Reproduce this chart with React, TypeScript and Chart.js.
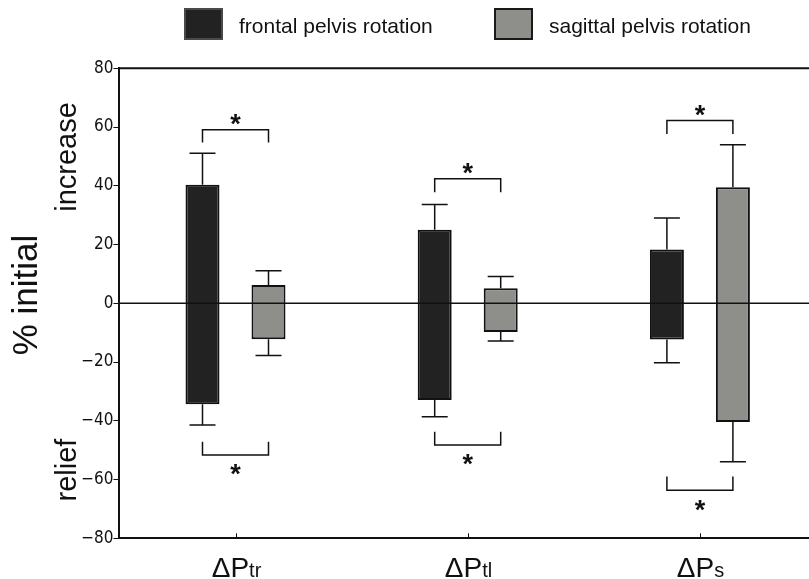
import React, { useEffect, useRef } from "react";
import { Chart, registerables } from "chart.js";

Chart.register(...registerables);

// ---- data ----
const categories = ["ΔPtr", "ΔPtl", "ΔPs"];
const catMain = ["ΔP", "ΔP", "ΔP"];
const catSub = ["tr", "tl", "s"];
const seriesNames = ["frontal pelvis rotation", "sagittal pelvis rotation"];

const frontalLo = [-34.4, -32.9, -12.3];
const frontalHi = [40.4, 25.0, 18.3];
const frontalWhiskerLo = [-41.4, -38.6, -20.2];
const frontalWhiskerHi = [51.1, 33.6, 29.0];

const sagittalLo = [-12.2, -9.8, -40.4];
const sagittalHi = [6.2, 5.1, 39.5];
const sagittalWhiskerLo = [-17.8, -12.8, -53.9];
const sagittalWhiskerHi = [11.1, 9.1, 54.0];

// significance brackets (y values): bar level and end tips
const bracketTop = [59.1, 42.4, 62.2];
const bracketTopTip = [54.7, 37.8, 57.6];
const bracketBottom = [-51.6, -48.2, -63.6];
const bracketBottomTip = [-47.1, -43.7, -59.0];

const yTicks = [-80, -60, -40, -20, 0, 20, 40, 60, 80];

const COLORS = ["#222222", "#8e8f8a"];

export default function App() {
  const ref = useRef<HTMLCanvasElement | null>(null);

  useEffect(() => {
    const canvas = ref.current!;
    const whiskers = [
      { lo: frontalWhiskerLo, hi: frontalWhiskerHi, boxLo: frontalLo, boxHi: frontalHi },
      { lo: sagittalWhiskerLo, hi: sagittalWhiskerHi, boxLo: sagittalLo, boxHi: sagittalHi },
    ];

    const overlay = {
      id: "overlay",
      afterDatasetsDraw(chart: any) {
        const ctx = chart.ctx;
        const y = chart.scales.y;
        const area = chart.chartArea;
        ctx.save();
        // zero line
        ctx.strokeStyle = "#111";
        ctx.lineWidth = 1.5;
        ctx.beginPath();
        ctx.moveTo(area.left, y.getPixelForValue(0));
        ctx.lineTo(area.right, y.getPixelForValue(0));
        ctx.stroke();
        // whiskers
        whiskers.forEach((w, di) => {
          const meta = chart.getDatasetMeta(di);
          meta.data.forEach((bar: any, j: number) => {
            const cx = bar.x;
            const cap = 13;
            const yTop = y.getPixelForValue(w.boxHi[j]);
            const yHi = y.getPixelForValue(w.hi[j]);
            const yBot = y.getPixelForValue(w.boxLo[j]);
            const yLo = y.getPixelForValue(w.lo[j]);
            ctx.beginPath();
            ctx.moveTo(cx, yTop);
            ctx.lineTo(cx, yHi);
            ctx.moveTo(cx - cap, yHi);
            ctx.lineTo(cx + cap, yHi);
            ctx.moveTo(cx, yBot);
            ctx.lineTo(cx, yLo);
            ctx.moveTo(cx - cap, yLo);
            ctx.lineTo(cx + cap, yLo);
            ctx.stroke();
          });
        });
        // brackets
        const m0 = chart.getDatasetMeta(0);
        const m1 = chart.getDatasetMeta(1);
        ctx.fillStyle = "#111";
        ctx.font = "bold 27px 'Liberation Sans', Arial, sans-serif";
        ctx.textAlign = "center";
        ctx.textBaseline = "alphabetic";
        categories.forEach((_, j) => {
          const x0 = m0.data[j].x;
          const x1 = m1.data[j].x;
          const mid = (x0 + x1) / 2;
          const t = y.getPixelForValue(bracketTop[j]);
          const tt = y.getPixelForValue(bracketTopTip[j]);
          const b = y.getPixelForValue(bracketBottom[j]);
          const bt = y.getPixelForValue(bracketBottomTip[j]);
          ctx.beginPath();
          ctx.moveTo(x0, tt);
          ctx.lineTo(x0, t);
          ctx.lineTo(x1, t);
          ctx.lineTo(x1, tt);
          ctx.moveTo(x0, bt);
          ctx.lineTo(x0, b);
          ctx.lineTo(x1, b);
          ctx.lineTo(x1, bt);
          ctx.stroke();
          ctx.fillText("*", mid, t - 12.5 + 16);
          ctx.fillText("*", mid, b + 12.5 + 16);
        });
        ctx.restore();
      },
      afterDraw(chart: any) {
        const ctx = chart.ctx;
        const x = chart.scales.x;
        const area = chart.chartArea;
        ctx.save();
        // top frame line
        ctx.strokeStyle = "#111";
        ctx.lineWidth = 2;
        ctx.beginPath();
        ctx.moveTo(area.left - 1, area.top);
        ctx.lineTo(area.right, area.top);
        ctx.stroke();
        // inward x ticks and labels
        ctx.lineWidth = 1;
        categories.forEach((_, j) => {
          const px = Math.round(x.getPixelForValue(j)) + 0.5;
          ctx.beginPath();
          ctx.moveTo(px, area.bottom);
          ctx.lineTo(px, area.bottom - 5);
          ctx.stroke();
          const mainFont = "28px 'Liberation Sans', Arial, sans-serif";
          const subFont = "20px 'Liberation Sans', Arial, sans-serif";
          ctx.font = mainFont;
          const w1 = ctx.measureText(catMain[j]).width;
          ctx.font = subFont;
          const w2 = ctx.measureText(catSub[j]).width;
          const start = px - (w1 + w2) / 2;
          ctx.fillStyle = "#111";
          ctx.textAlign = "left";
          ctx.textBaseline = "alphabetic";
          ctx.font = mainFont;
          ctx.fillText(catMain[j], start, 577);
          ctx.font = subFont;
          ctx.fillText(catSub[j], start + w1, 577);
        });
        // axis titles
        const rot = (text: string, bx: number, cy: number, font: string) => {
          ctx.save();
          ctx.translate(bx, cy);
          ctx.rotate(-Math.PI / 2);
          ctx.font = font;
          ctx.textAlign = "center";
          ctx.textBaseline = "alphabetic";
          ctx.fillText(text, 0, 0);
          ctx.restore();
        };
        rot("% initial", 36.5, 295, "35px 'Liberation Sans', Arial, sans-serif");
        rot("increase", 76, 157, "29px 'Liberation Sans', Arial, sans-serif");
        rot("relief", 76, 470, "29px 'Liberation Sans', Arial, sans-serif");
        // legend
        const legendBoxes = [
          { x: 185, tx: 239, fill: COLORS[0], stroke: "#4a4a4a" },
          { x: 495, tx: 549, fill: COLORS[1], stroke: "#1a1a1a" },
        ];
        legendBoxes.forEach((lb, i) => {
          ctx.fillStyle = lb.fill;
          ctx.strokeStyle = lb.stroke;
          ctx.lineWidth = 2;
          ctx.fillRect(lb.x, 9, 37, 30);
          ctx.strokeRect(lb.x, 9, 37, 30);
          ctx.fillStyle = "#111";
          ctx.font = "21px 'Liberation Sans', Arial, sans-serif";
          ctx.textAlign = "left";
          ctx.textBaseline = "alphabetic";
          ctx.fillText(seriesNames[i], lb.tx, 33);
        });
        ctx.restore();
      },
    };

    const chart = new Chart(canvas, {
      type: "bar",
      data: {
        labels: categories,
        datasets: [
          {
            label: seriesNames[0],
            data: frontalLo.map((v, i) => [v, frontalHi[i]]) as any,
            backgroundColor: COLORS[0],
            borderColor: "#111",
            borderWidth: 2,
            borderSkipped: false,
          },
          {
            label: seriesNames[1],
            data: sagittalLo.map((v, i) => [v, sagittalHi[i]]) as any,
            backgroundColor: COLORS[1],
            borderColor: "#111",
            borderWidth: 2,
            borderSkipped: false,
          },
        ],
      },
      options: {
        responsive: false,
        animation: false,
        events: [],
        layout: { padding: { top: 68.3, left: 0, right: 0, bottom: 0 } },
        datasets: { bar: { categoryPercentage: 0.5685, barPercentage: 0.515 } },
        plugins: { legend: { display: false }, tooltip: { enabled: false } },
        scales: {
          x: {
            type: "category",
            grid: { display: false },
            border: { display: true, color: "#111", width: 2 },
            ticks: { display: false },
            afterFit: (s: any) => {
              s.height = 40.7;
            },
          },
          y: {
            min: -80,
            max: 80,
            afterBuildTicks: (s: any) => {
              s.ticks = yTicks.map((v) => ({ value: v }));
            },
            grid: {
              drawOnChartArea: false,
              drawTicks: true,
              tickLength: 6,
              color: "#111",
              lineWidth: 1,
            },
            border: { display: true, color: "#111", width: 2 },
            ticks: {
              padding: 0,
              color: "#111",
              font: { family: "'Liberation Sans Narrow', 'DejaVu Sans Condensed', sans-serif", size: 17 },
              callback: (v: any) => String(v).replace("-", "\u2212"),
            },
            afterFit: (s: any) => {
              s.width = 119.4;
            },
          },
        },
      },
      plugins: [overlay],
    });
    return () => chart.destroy();
  }, []);

  return (
    <div
      style={{
        position: "absolute",
        left: 0,
        top: 0,
        width: 809,
        height: 579,
        overflow: "hidden",
        background: "#fff",
      }}
    >
      <canvas ref={ref} width={816} height={579} style={{ width: 816, height: 579, display: "block" }} />
    </div>
  );
}
